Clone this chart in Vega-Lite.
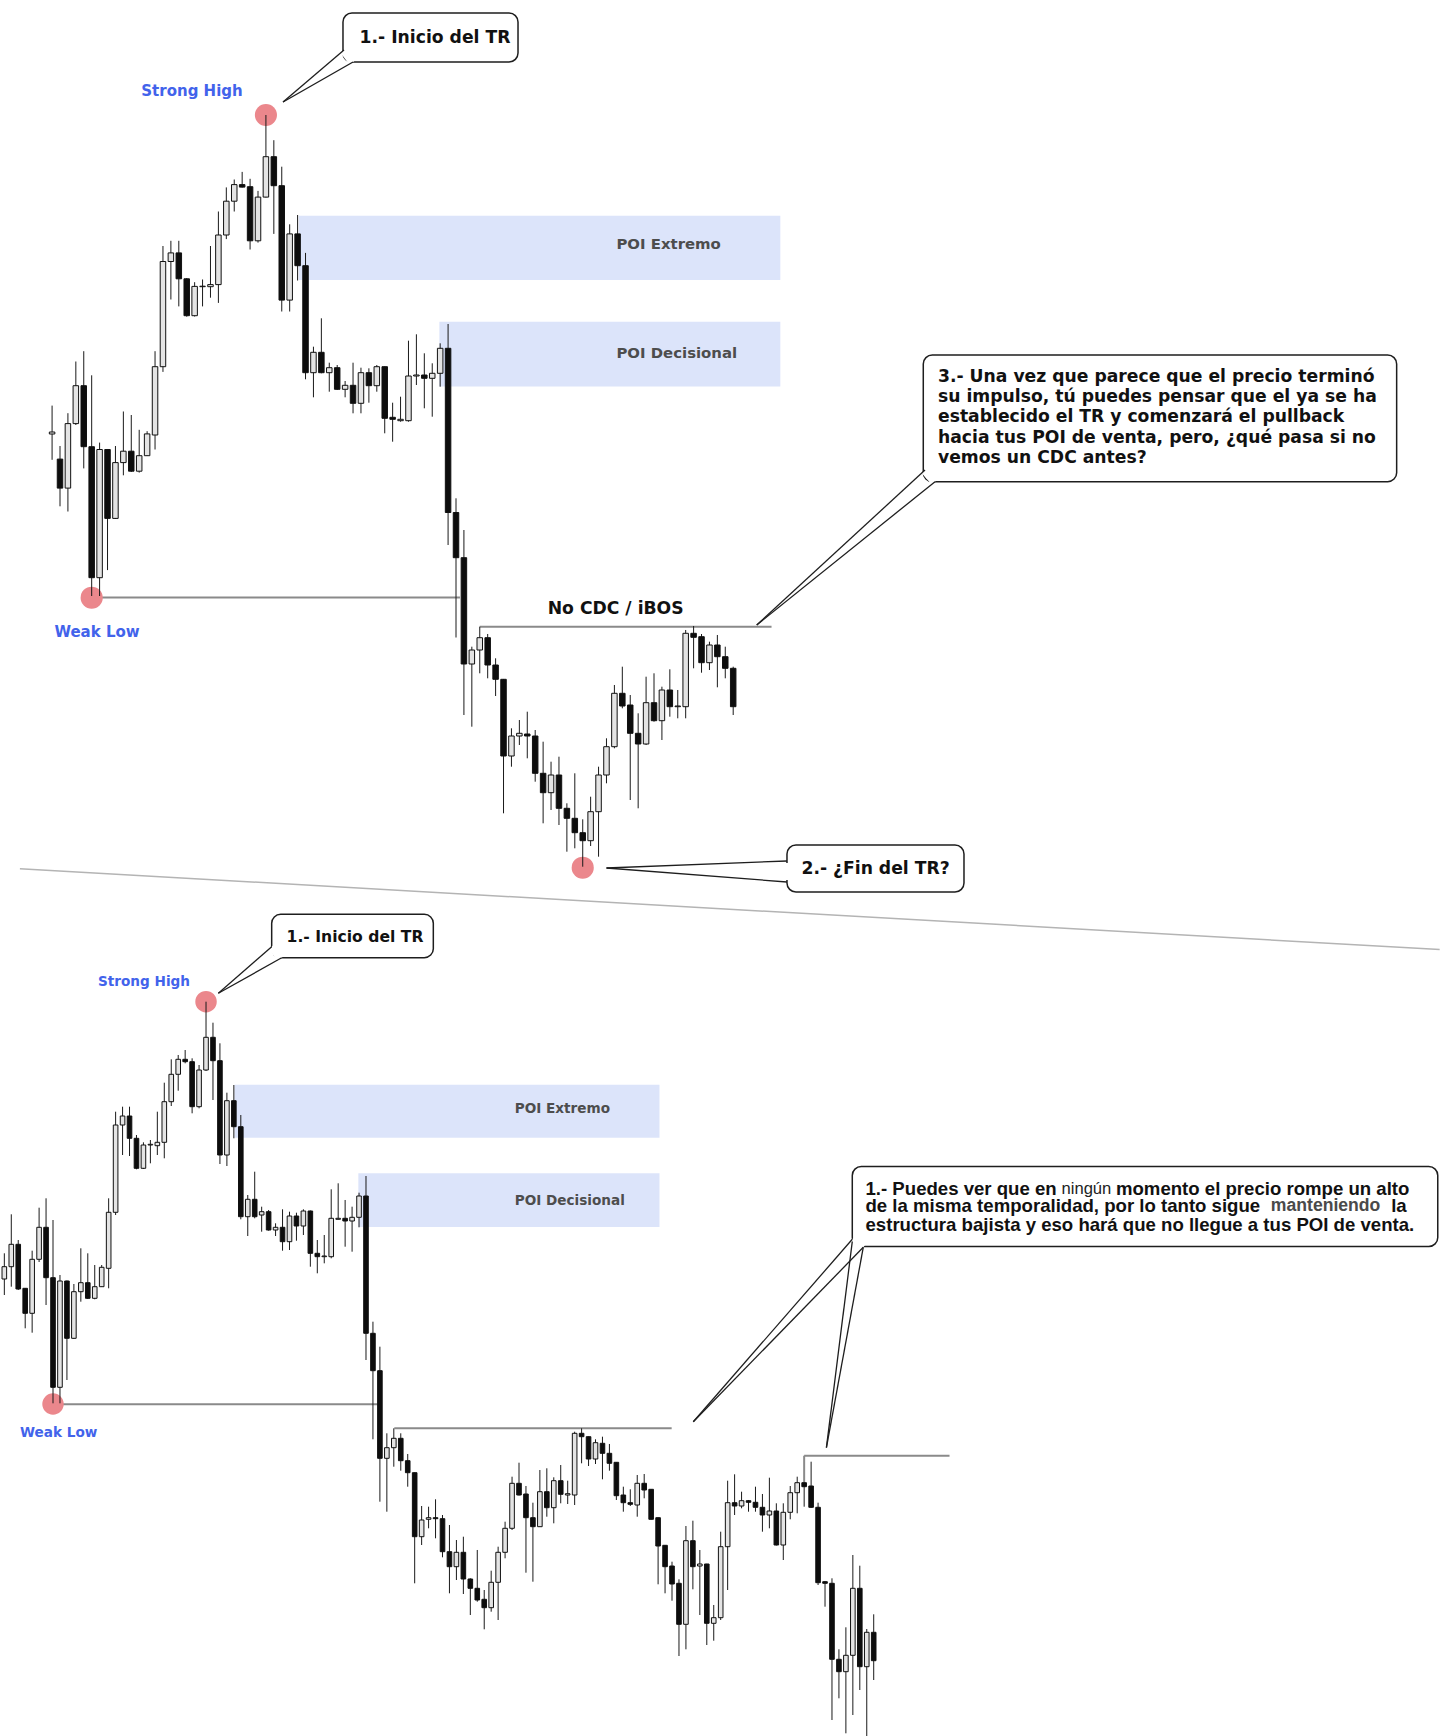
{
"$schema": "https://vega.github.io/schema/vega-lite/v6.json",
"padding": 0,
"spacing": 0,
"bounds": "flush",
"background": "white",
"config": {"view": {"stroke": null}},
"datasets": {
"top": [
{"i":-1,"o":566,"h":594.4,"l":540.2,"c":568},
{"i":0,"o":540.9,"h":554,"l":493.7,"c":511.9},
{"i":1,"o":511.9,"h":586.8,"l":488.5,"c":576.4},
{"i":2,"o":576.4,"h":638.5,"l":575,"c":614.3},
{"i":3,"o":614.3,"h":648.8,"l":531.6,"c":553.3},
{"i":4,"o":553.3,"h":624.7,"l":404,"c":422.3},
{"i":5,"o":422.3,"h":557.4,"l":404,"c":550.5},
{"i":6,"o":550.5,"h":551,"l":429.9,"c":481.6},
{"i":7,"o":481.6,"h":554,"l":481,"c":537.4},
{"i":8,"o":537.4,"h":588.5,"l":524.7,"c":548.8},
{"i":9,"o":548.8,"h":585,"l":528,"c":528.8},
{"i":10,"o":528.8,"h":570.2,"l":527.4,"c":544.3},
{"i":11,"o":544.3,"h":568.8,"l":544,"c":566.1},
{"i":12,"o":565,"h":648.8,"l":550.5,"c":633.3},
{"i":13,"o":633.3,"h":754,"l":628.1,"c":738.5},
{"i":14,"o":738.5,"h":759.2,"l":700.5,"c":747.1},
{"i":15,"o":747.1,"h":759.2,"l":693.6,"c":721.2},
{"i":16,"o":721.2,"h":721.9,"l":683.3,"c":684.3},
{"i":17,"o":684.3,"h":717.8,"l":683.5,"c":713.6},
{"i":18,"o":713.3,"h":720.5,"l":693.6,"c":713.8},
{"i":19,"o":713.3,"h":754,"l":702.3,"c":715.4},
{"i":20,"o":715.4,"h":788.5,"l":697.1,"c":765},
{"i":21,"o":765,"h":812.6,"l":760.9,"c":798.8},
{"i":22,"o":798.8,"h":820.5,"l":788.5,"c":815.4},
{"i":23,"o":815.4,"h":828.1,"l":812.5,"c":812.9},
{"i":24,"o":813.3,"h":821.2,"l":750.5,"c":759.2},
{"i":25,"o":759.2,"h":809.1,"l":757.4,"c":802.9},
{"i":26,"o":802.9,"h":885,"l":802.5,"c":843.3},
{"i":27,"o":843.3,"h":859.8,"l":766.1,"c":814.3},
{"i":28,"o":814.3,"h":833.3,"l":688.5,"c":699.9},
{"i":29,"o":699.9,"h":775.7,"l":688.5,"c":766.1},
{"i":30,"o":766.1,"h":785,"l":719.5,"c":734.3},
{"i":31,"o":734.3,"h":747.1,"l":620.7,"c":627.3},
{"i":32,"o":627.3,"h":653.3,"l":602.7,"c":647.7},
{"i":33,"o":647.7,"h":681.7,"l":626.7,"c":627.3},
{"i":34,"o":627.3,"h":637.3,"l":608.3,"c":632.3},
{"i":35,"o":632.3,"h":635,"l":610,"c":610.7},
{"i":36,"o":610.7,"h":619,"l":602.7,"c":614.7},
{"i":37,"o":614.7,"h":637.3,"l":586.7,"c":596.7},
{"i":38,"o":596.7,"h":632.3,"l":586.7,"c":627.3},
{"i":39,"o":627.3,"h":631.7,"l":597.3,"c":614.3},
{"i":40,"o":614.3,"h":635,"l":608.3,"c":633.3},
{"i":41,"o":633.3,"h":633.5,"l":566.7,"c":581.7},
{"i":42,"o":582.7,"h":597.3,"l":558.3,"c":580.7},
{"i":43,"o":579.3,"h":603.3,"l":578.3,"c":580.7},
{"i":44,"o":579.3,"h":659.3,"l":578.3,"c":624},
{"i":45,"o":624,"h":665.7,"l":615,"c":625},
{"i":46,"o":625,"h":646.7,"l":591.7,"c":621.7},
{"i":47,"o":621.7,"h":636.7,"l":583.3,"c":626.7},
{"i":48,"o":626.7,"h":656.7,"l":613.3,"c":651.7},
{"i":49,"o":651.7,"h":676,"l":455,"c":487.5},
{"i":50,"o":487.5,"h":501.7,"l":362.5,"c":442.3},
{"i":51,"o":442.3,"h":470,"l":285,"c":336},
{"i":52,"o":336,"h":353.3,"l":273.3,"c":350},
{"i":53,"o":350,"h":373.3,"l":326.7,"c":362.3},
{"i":54,"o":362.3,"h":366,"l":321.7,"c":335},
{"i":55,"o":335,"h":341.7,"l":304,"c":320.7},
{"i":56,"o":320.7,"h":321,"l":186.7,"c":244},
{"i":57,"o":244,"h":271.7,"l":233.3,"c":264},
{"i":58,"o":264,"h":280,"l":255,"c":266.7},
{"i":59,"o":266,"h":288.3,"l":241.7,"c":264},
{"i":60,"o":264,"h":270,"l":218.3,"c":226.7},
{"i":61,"o":226.7,"h":258.3,"l":176.7,"c":207.3},
{"i":62,"o":207.3,"h":238.3,"l":190,"c":225},
{"i":63,"o":225,"h":243.3,"l":175,"c":191.7},
{"i":64,"o":191.7,"h":196.7,"l":148.3,"c":181.7},
{"i":65,"o":181.7,"h":226.7,"l":151.7,"c":167.3},
{"i":66,"o":167.3,"h":180.7,"l":133.3,"c":159.3},
{"i":67,"o":159.3,"h":203.3,"l":154,"c":188.3},
{"i":68,"o":188.3,"h":233.3,"l":143.3,"c":225},
{"i":69,"o":225,"h":261.7,"l":216.7,"c":253.3},
{"i":70,"o":253.3,"h":315,"l":251.7,"c":306.7},
{"i":71,"o":306.7,"h":333.3,"l":291.7,"c":294},
{"i":72,"o":295,"h":305,"l":200,"c":266.7},
{"i":73,"o":266.7,"h":286.7,"l":191.7,"c":256},
{"i":74,"o":256,"h":323.3,"l":255,"c":297.3},
{"i":75,"o":297.3,"h":326.7,"l":278.3,"c":279.3},
{"i":76,"o":279.3,"h":313.3,"l":260,"c":310},
{"i":77,"o":310,"h":330.7,"l":283.3,"c":293.3},
{"i":78,"o":293.3,"h":310,"l":281.7,"c":294},
{"i":79,"o":293.3,"h":370,"l":281.7,"c":366.7},
{"i":80,"o":366.7,"h":374,"l":331.7,"c":362.7},
{"i":81,"o":363.3,"h":366,"l":327.3,"c":337.3},
{"i":82,"o":337.3,"h":358.3,"l":330,"c":355},
{"i":83,"o":355,"h":365,"l":312.7,"c":343.3},
{"i":84,"o":343.3,"h":353.3,"l":321.7,"c":331.7},
{"i":85,"o":331.7,"h":333.3,"l":285,"c":293.3}
],
"bot": [
{"i":0,"o":521,"h":546.7,"l":505,"c":533.3},
{"i":1,"o":533.3,"h":585.7,"l":513.3,"c":555.7},
{"i":2,"o":555.7,"h":560,"l":510,"c":511},
{"i":3,"o":511.7,"h":512,"l":471.7,"c":486.7},
{"i":4,"o":486.7,"h":549.3,"l":467.3,"c":540.7},
{"i":5,"o":540.7,"h":592.3,"l":538,"c":572.7},
{"i":6,"o":572.7,"h":601.7,"l":495,"c":522.3},
{"i":7,"o":522.3,"h":580,"l":396.7,"c":412.7},
{"i":8,"o":412.7,"h":525,"l":396.7,"c":519},
{"i":9,"o":519,"h":519.5,"l":420,"c":461.7},
{"i":10,"o":461.7,"h":516,"l":461,"c":508.3},
{"i":11,"o":508.3,"h":551.7,"l":498.3,"c":517.3},
{"i":12,"o":517.3,"h":546.7,"l":501,"c":501.7},
{"i":13,"o":501.7,"h":535,"l":500.7,"c":513.3},
{"i":14,"o":513.3,"h":535,"l":513,"c":532.7},
{"i":15,"o":531.7,"h":601.7,"l":511.7,"c":587.7},
{"i":16,"o":587.7,"h":688.3,"l":585,"c":675},
{"i":17,"o":675,"h":693.3,"l":645,"c":684},
{"i":18,"o":684,"h":693.3,"l":644,"c":661.7},
{"i":19,"o":661.7,"h":665,"l":630.7,"c":631.7},
{"i":20,"o":631.7,"h":657.7,"l":631,"c":655},
{"i":21,"o":655,"h":660,"l":636.7,"c":655.7},
{"i":22,"o":654.3,"h":688.3,"l":645,"c":657.7},
{"i":23,"o":657.7,"h":717.3,"l":641.7,"c":698.3},
{"i":24,"o":698.3,"h":740.7,"l":694,"c":725.7},
{"i":25,"o":725.7,"h":745,"l":709.3,"c":740.7},
{"i":26,"o":740.7,"h":750,"l":736.7,"c":738.3},
{"i":27,"o":738.3,"h":741.7,"l":686.7,"c":693.3},
{"i":28,"o":693.3,"h":735,"l":691.7,"c":730},
{"i":29,"o":730,"h":798.3,"l":729,"c":762.7},
{"i":30,"o":762.7,"h":777.3,"l":700,"c":739.3},
{"i":31,"o":739.3,"h":756.7,"l":636,"c":645},
{"i":32,"o":645,"h":707.3,"l":634,"c":699.3},
{"i":33,"o":699.3,"h":715,"l":661.7,"c":673.3},
{"i":34,"o":673.3,"h":685,"l":580.7,"c":583.3},
{"i":35,"o":583.3,"h":605,"l":564,"c":600.7},
{"i":36,"o":600.7,"h":628.3,"l":581.7,"c":583.3},
{"i":37,"o":585,"h":593.3,"l":568.3,"c":588.3},
{"i":38,"o":588.3,"h":590,"l":569.3,"c":570},
{"i":39,"o":570,"h":576.7,"l":564,"c":572.7},
{"i":40,"o":572.7,"h":590.7,"l":549.3,"c":558.3},
{"i":41,"o":558.3,"h":588.3,"l":550,"c":584},
{"i":42,"o":584,"h":587.3,"l":559.3,"c":574},
{"i":43,"o":574,"h":590.7,"l":565,"c":589},
{"i":44,"o":589,"h":589.5,"l":533.3,"c":546.7},
{"i":45,"o":546.7,"h":560,"l":526.7,"c":543.3},
{"i":46,"o":543.3,"h":565,"l":536.7,"c":544},
{"i":47,"o":543.3,"h":610.7,"l":541.7,"c":581.7},
{"i":48,"o":580.7,"h":616.7,"l":580.5,"c":581.7},
{"i":49,"o":581.7,"h":600,"l":553.3,"c":579},
{"i":50,"o":579,"h":593.3,"l":548.3,"c":582.7},
{"i":51,"o":582.7,"h":607.3,"l":572.7,"c":604},
{"i":52,"o":604,"h":624,"l":440,"c":466.7},
{"i":53,"o":466.7,"h":478.3,"l":360.7,"c":429.3},
{"i":54,"o":429.3,"h":453.3,"l":298.3,"c":341.7},
{"i":55,"o":341.7,"h":366.7,"l":288.3,"c":352.3},
{"i":56,"o":352.3,"h":371.7,"l":333.3,"c":361.7},
{"i":57,"o":361.7,"h":366.7,"l":329.3,"c":339.3},
{"i":58,"o":339.3,"h":346,"l":313.3,"c":327.3},
{"i":59,"o":327.3,"h":327.5,"l":216.7,"c":263.3},
{"i":60,"o":263.3,"h":294,"l":255,"c":280},
{"i":61,"o":280.7,"h":293.3,"l":271.7,"c":282.3},
{"i":62,"o":282.3,"h":300.7,"l":261.7,"c":281.3},
{"i":63,"o":281.3,"h":285,"l":242.7,"c":248.3},
{"i":64,"o":248.3,"h":275,"l":206.7,"c":233.3},
{"i":65,"o":233.3,"h":260,"l":220,"c":247.7},
{"i":66,"o":247.7,"h":263.3,"l":206,"c":221},
{"i":67,"o":221,"h":221.7,"l":185,"c":211.7},
{"i":68,"o":211.7,"h":250,"l":198.3,"c":200},
{"i":69,"o":200.7,"h":210,"l":170.7,"c":192.3},
{"i":70,"o":192.3,"h":229.3,"l":188.3,"c":217.7},
{"i":71,"o":217.7,"h":253.3,"l":180,"c":247.7},
{"i":72,"o":247.7,"h":278.3,"l":241.7,"c":271.7},
{"i":73,"o":271.7,"h":323.3,"l":270,"c":316.7},
{"i":74,"o":316.7,"h":337.3,"l":304.5,"c":305},
{"i":75,"o":306,"h":314,"l":227.3,"c":282.3},
{"i":76,"o":282.3,"h":297.3,"l":218.3,"c":273.3},
{"i":77,"o":273.3,"h":330,"l":273,"c":308.3},
{"i":78,"o":308.3,"h":331.7,"l":283.3,"c":292.3},
{"i":79,"o":292.3,"h":322.7,"l":276.7,"c":319.3},
{"i":80,"o":319.3,"h":335,"l":296.7,"c":305.7},
{"i":81,"o":305,"h":319.3,"l":296,"c":306.3},
{"i":82,"o":305,"h":368.3,"l":295,"c":366.7},
{"i":83,"o":366.7,"h":371.7,"l":336.7,"c":363.3},
{"i":84,"o":363.3,"h":363.5,"l":334,"c":341},
{"i":85,"o":341,"h":360.7,"l":336,"c":357.3},
{"i":86,"o":356.7,"h":363.3,"l":320.7,"c":346.7},
{"i":87,"o":346.7,"h":356,"l":329.3,"c":336.7},
{"i":88,"o":337.7,"h":337.9,"l":300,"c":304.3},
{"i":89,"o":305,"h":313.3,"l":288.3,"c":297.3},
{"i":90,"o":297.3,"h":310.7,"l":294,"c":295.7},
{"i":91,"o":295,"h":325,"l":283.3,"c":316.7},
{"i":92,"o":316.7,"h":326,"l":301.7,"c":310},
{"i":93,"o":310.7,"h":310.9,"l":280.5,"c":280.7},
{"i":94,"o":282.3,"h":282.5,"l":215.7,"c":254},
{"i":95,"o":254.7,"h":254.9,"l":206.7,"c":233.3},
{"i":96,"o":234,"h":238.3,"l":199.3,"c":216},
{"i":97,"o":216.7,"h":220.7,"l":144,"c":175.7},
{"i":98,"o":175.7,"h":274,"l":150.7,"c":259.3},
{"i":99,"o":259.3,"h":279.3,"l":210.7,"c":233.3},
{"i":100,"o":234,"h":250,"l":185,"c":236},
{"i":101,"o":236,"h":236.2,"l":155,"c":176.7},
{"i":102,"o":176.7,"h":195,"l":159.3,"c":182.3},
{"i":103,"o":182.3,"h":268.3,"l":180,"c":253.3},
{"i":104,"o":253.3,"h":319.3,"l":210,"c":297.3},
{"i":105,"o":297.3,"h":325.7,"l":285,"c":294},
{"i":106,"o":294,"h":308.3,"l":291.7,"c":299.3},
{"i":107,"o":299.3,"h":300,"l":288.3,"c":297.7},
{"i":108,"o":297.7,"h":313.3,"l":288.3,"c":292.7},
{"i":109,"o":292.7,"h":306,"l":268.3,"c":285},
{"i":110,"o":285,"h":322.3,"l":271.7,"c":289},
{"i":111,"o":289,"h":296.7,"l":254.5,"c":255},
{"i":112,"o":255,"h":296.7,"l":240,"c":287.7},
{"i":113,"o":287.7,"h":314,"l":280.7,"c":307.3},
{"i":114,"o":307.3,"h":323.3,"l":286.7,"c":317.3},
{"i":115,"o":317.3,"h":317.5,"l":293.3,"c":313.3},
{"i":116,"o":314,"h":338.3,"l":292,"c":292.7},
{"i":117,"o":292.7,"h":297.3,"l":215,"c":217.3},
{"i":118,"o":218.3,"h":219,"l":193.3,"c":216.7},
{"i":119,"o":216.7,"h":221.7,"l":80,"c":140.7},
{"i":120,"o":140.7,"h":150.7,"l":101.7,"c":128.3},
{"i":121,"o":128.3,"h":172.7,"l":66.7,"c":144.7},
{"i":122,"o":144.7,"h":245,"l":85,"c":211.7},
{"i":123,"o":211.7,"h":234.3,"l":110,"c":133.3},
{"i":124,"o":133.3,"h":171,"l":64,"c":167.7},
{"i":125,"o":167.7,"h":185.7,"l":120,"c":139.3}
]
},
"vconcat": [
{
"width": 1440, "height": 900,
"layer": [
{"data": {"values": [{"x": -5.06, "y": 131.2, "x2": 174.2, "y2": 50.4}]},
 "mark": {"type": "rule", "color": "#b4b4b4", "strokeWidth": 1.5},
 "encoding": {
  "x": {"field": "x", "type": "quantitative", "scale": {"domain": [-7.5758, 174.2424], "nice": false, "zero": false, "padding": 0}, "axis": null},
  "x2": {"field": "x2"},
  "y": {"field": "y", "type": "quantitative", "scale": {"domain": [100, 1000], "nice": false, "zero": false}, "axis": null},
  "y2": {"field": "y2"}}},
{"data": {"values": [{"x": 30.15, "x2": 90.95, "y": 784.2, "y2": 720}, {"x": 47.9, "x2": 90.95, "y": 678.3, "y2": 613.5}]},
 "mark": {"type": "rect", "color": "#dce4fa"},
 "encoding": {
  "x": {"field": "x", "type": "quantitative", "scale": {"domain": [-7.5758, 174.2424], "nice": false, "zero": false, "padding": 0}, "axis": null},
  "x2": {"field": "x2"},
  "y": {"field": "y", "type": "quantitative", "scale": {"domain": [100, 1000], "nice": false, "zero": false}, "axis": null},
  "y2": {"field": "y2"}}},
{"data": {"values": [{"x": 70.26, "y": 755.4, "t": "POI Extremo"}, {"x": 70.26, "y": 645.8, "t": "POI Decisional"}]},
 "mark": {"type": "text", "align": "left", "baseline": "middle", "font": "DejaVu Sans", "fontWeight": "bold", "fontSize": 14.9, "color": "#4d4d4d"},
 "encoding": {
  "x": {"field": "x", "type": "quantitative", "scale": {"domain": [-7.5758, 174.2424], "nice": false, "zero": false, "padding": 0}, "axis": null},
  "y": {"field": "y", "type": "quantitative", "scale": {"domain": [100, 1000], "nice": false, "zero": false}, "axis": null},
  "text": {"field": "t", "type": "nominal"}}},
{"data": {"values": [{"x": 4, "x2": 50.5, "y": 402.5, "y2": 402.5}, {"x": 53, "x2": 89.84, "y": 373.3, "y2": 373.3}]},
 "mark": {"type": "rule", "color": "#8a8a8a", "strokeWidth": 2},
 "encoding": {
  "x": {"field": "x", "type": "quantitative", "scale": {"domain": [-7.5758, 174.2424], "nice": false, "zero": false, "padding": 0}, "axis": null},
  "x2": {"field": "x2"},
  "y": {"field": "y", "type": "quantitative", "scale": {"domain": [100, 1000], "nice": false, "zero": false}, "axis": null},
  "y2": {"field": "y2"}}},
{"data": {"values": [{"x": 26, "y": 885}, {"x": 4, "y": 402.3}, {"x": 66, "y": 132.3}]},
 "mark": {"type": "point", "shape": "circle", "filled": true, "size": 490, "color": "#eb878c", "opacity": 1},
 "encoding": {
  "x": {"field": "x", "type": "quantitative", "scale": {"domain": [-7.5758, 174.2424], "nice": false, "zero": false, "padding": 0}, "axis": null},
  "y": {"field": "y", "type": "quantitative", "scale": {"domain": [100, 1000], "nice": false, "zero": false}, "axis": null}}},
{"data": {"name": "top"},
 "mark": {"type": "rule", "color": "#1a1a1a", "strokeWidth": 1},
 "encoding": {
  "x": {"field": "i", "type": "quantitative", "scale": {"domain": [-7.5758, 174.2424], "nice": false, "zero": false, "padding": 0}, "axis": null},
  "y": {"field": "l", "type": "quantitative", "scale": {"domain": [100, 1000], "nice": false, "zero": false}, "axis": null},
  "y2": {"field": "h"}}},
{"data": {"name": "top"},
 "mark": {"type": "bar", "width": 5.5, "stroke": "#111111", "strokeWidth": 1},
 "encoding": {
  "x": {"field": "i", "type": "quantitative", "scale": {"domain": [-7.5758, 174.2424], "nice": false, "zero": false, "padding": 0}, "axis": null},
  "y": {"field": "o", "type": "quantitative", "scale": {"domain": [100, 1000], "nice": false, "zero": false}, "axis": null},
  "y2": {"field": "c"},
  "fill": {"condition": {"test": "datum.c > datum.o", "value": "#e4e4e4"}, "value": "#0d0d0d"}}},
{"data": {"values": [{"x": 35.73, "x2": 57.83, "y": 987, "y2": 938}, {"x": 91.79, "x2": 114.14, "y": 155, "y2": 108}, {"x": 109.0, "x2": 168.77, "y": 645, "y2": 518.3}]},
 "mark": {"type": "rect", "fill": "#ffffff", "stroke": "#1e1e1e", "strokeWidth": 1.5, "cornerRadius": 9},
 "encoding": {
  "x": {"field": "x", "type": "quantitative", "scale": {"domain": [-7.5758, 174.2424], "nice": false, "zero": false, "padding": 0}, "axis": null},
  "x2": {"field": "x2"},
  "y": {"field": "y", "type": "quantitative", "scale": {"domain": [100, 1000], "nice": false, "zero": false}, "axis": null},
  "y2": {"field": "y2"}}},
{"data": {"values": [{"x": 35.86, "y": 950, "x2": 37.0, "y2": 938}, {"x": 91.79, "y": 137, "x2": 91.79, "y2": 120}, {"x": 109.22, "y": 530, "x2": 110.48, "y2": 518.3}]},
 "mark": {"type": "rule", "color": "#ffffff", "strokeWidth": 9},
 "encoding": {
  "x": {"field": "x", "type": "quantitative", "scale": {"domain": [-7.5758, 174.2424], "nice": false, "zero": false, "padding": 0}, "axis": null},
  "x2": {"field": "x2"},
  "y": {"field": "y", "type": "quantitative", "scale": {"domain": [100, 1000], "nice": false, "zero": false}, "axis": null},
  "y2": {"field": "y2"}}},
{"data": {"values": [
  {"x": 28.16, "y": 898, "x2": 35.86, "y2": 950}, {"x": 28.16, "y": 898, "x2": 37.0, "y2": 938},
  {"x": 69.0, "y": 132, "x2": 91.79, "y2": 139}, {"x": 69.0, "y": 132, "x2": 91.79, "y2": 118},
  {"x": 87.97, "y": 375, "x2": 109.22, "y2": 530}, {"x": 87.97, "y": 375, "x2": 110.48, "y2": 518.3}]},
 "mark": {"type": "rule", "color": "#1e1e1e", "strokeWidth": 1.3},
 "encoding": {
  "x": {"field": "x", "type": "quantitative", "scale": {"domain": [-7.5758, 174.2424], "nice": false, "zero": false, "padding": 0}, "axis": null},
  "x2": {"field": "x2"},
  "y": {"field": "y", "type": "quantitative", "scale": {"domain": [100, 1000], "nice": false, "zero": false}, "axis": null},
  "y2": {"field": "y2"}}},
{"data": {"values": [{"x": 47.35, "y": 962, "t": "1.- Inicio del TR"}, {"x": 102.97, "y": 131, "t": "2.- ¿Fin del TR?"}, {"x": 70.16, "y": 391, "t": "No CDC / iBOS"}]},
 "mark": {"type": "text", "align": "center", "baseline": "middle", "font": "DejaVu Sans", "fontWeight": "bold", "fontSize": 17.2, "color": "#111111"},
 "encoding": {
  "x": {"field": "x", "type": "quantitative", "scale": {"domain": [-7.5758, 174.2424], "nice": false, "zero": false, "padding": 0}, "axis": null},
  "y": {"field": "y", "type": "quantitative", "scale": {"domain": [100, 1000], "nice": false, "zero": false}, "axis": null},
  "text": {"field": "t", "type": "nominal"}}},
{"data": {"values": [{"x": 16.67, "y": 909, "t": "Strong High"}, {"x": 4.67, "y": 368, "t": "Weak Low"}]},
 "mark": {"type": "text", "align": "center", "baseline": "middle", "font": "DejaVu Sans", "fontWeight": "bold", "fontSize": 15, "color": "#4263eb"},
 "encoding": {
  "x": {"field": "x", "type": "quantitative", "scale": {"domain": [-7.5758, 174.2424], "nice": false, "zero": false, "padding": 0}, "axis": null},
  "y": {"field": "y", "type": "quantitative", "scale": {"domain": [100, 1000], "nice": false, "zero": false}, "axis": null},
  "text": {"field": "t", "type": "nominal"}}},
{"data": {"values": [
  {"x": 110.86, "y": 622.6, "t": "3.- Una vez que parece que el precio terminó"},
  {"x": 110.86, "y": 602.7, "t": "su impulso, tú puedes pensar que el ya se ha"},
  {"x": 110.86, "y": 582.7, "t": "establecido el TR y comenzará el pullback"},
  {"x": 110.86, "y": 562.2, "t": "hacia tus POI de venta, pero, ¿qué pasa si no"},
  {"x": 110.86, "y": 542.0, "t": "vemos un CDC antes?"}]},
 "mark": {"type": "text", "align": "left", "baseline": "middle", "font": "DejaVu Sans", "fontWeight": "bold", "fontSize": 17.2, "color": "#111111"},
 "encoding": {
  "x": {"field": "x", "type": "quantitative", "scale": {"domain": [-7.5758, 174.2424], "nice": false, "zero": false, "padding": 0}, "axis": null},
  "y": {"field": "y", "type": "quantitative", "scale": {"domain": [100, 1000], "nice": false, "zero": false}, "axis": null},
  "text": {"field": "t", "type": "nominal"}}}
]
},
{
"width": 1440, "height": 836,
"layer": [
{"data": {"values": [{"x": 33.1, "x2": 94.2, "y": 715.3, "y2": 662.2}, {"x": 50.9, "x2": 94.2, "y": 626.8, "y2": 573}]},
 "mark": {"type": "rect", "color": "#dce4fa"},
 "encoding": {
  "x": {"field": "x", "type": "quantitative", "scale": {"domain": [-0.6226, 206.4216], "nice": false, "zero": false, "padding": 0}, "axis": null},
  "x2": {"field": "x2"},
  "y": {"field": "y", "type": "quantitative", "scale": {"domain": [64, 900], "nice": false, "zero": false}, "axis": null},
  "y2": {"field": "y2"}}},
{"data": {"values": [{"x": 73.38, "y": 691, "t": "POI Extremo"}, {"x": 73.38, "y": 599, "t": "POI Decisional"}]},
 "mark": {"type": "text", "align": "left", "baseline": "middle", "font": "DejaVu Sans", "fontWeight": "bold", "fontSize": 13.6, "color": "#4d4d4d"},
 "encoding": {
  "x": {"field": "x", "type": "quantitative", "scale": {"domain": [-0.6226, 206.4216], "nice": false, "zero": false, "padding": 0}, "axis": null},
  "y": {"field": "y", "type": "quantitative", "scale": {"domain": [64, 900], "nice": false, "zero": false}, "axis": null},
  "text": {"field": "t", "type": "nominal"}}},
{"data": {"values": [{"x": 7, "x2": 53.7, "y": 395.7, "y2": 395.7}, {"x": 56.07, "x2": 95.95, "y": 371.7, "y2": 371.7}, {"x": 115, "x2": 135.9, "y": 344.3, "y2": 344.3}, {"x": 115, "x2": 115, "y": 344.3, "y2": 317.5}]},
 "mark": {"type": "rule", "color": "#8a8a8a", "strokeWidth": 2},
 "encoding": {
  "x": {"field": "x", "type": "quantitative", "scale": {"domain": [-0.6226, 206.4216], "nice": false, "zero": false, "padding": 0}, "axis": null},
  "x2": {"field": "x2"},
  "y": {"field": "y", "type": "quantitative", "scale": {"domain": [64, 900], "nice": false, "zero": false}, "axis": null},
  "y2": {"field": "y2"}}},
{"data": {"values": [{"x": 29, "y": 798.3}, {"x": 7, "y": 396}]},
 "mark": {"type": "point", "shape": "circle", "filled": true, "size": 460, "color": "#eb878c", "opacity": 1},
 "encoding": {
  "x": {"field": "x", "type": "quantitative", "scale": {"domain": [-0.6226, 206.4216], "nice": false, "zero": false, "padding": 0}, "axis": null},
  "y": {"field": "y", "type": "quantitative", "scale": {"domain": [64, 900], "nice": false, "zero": false}, "axis": null}}},
{"data": {"name": "bot"},
 "mark": {"type": "rule", "color": "#1a1a1a", "strokeWidth": 1},
 "encoding": {
  "x": {"field": "i", "type": "quantitative", "scale": {"domain": [-0.6226, 206.4216], "nice": false, "zero": false, "padding": 0}, "axis": null},
  "y": {"field": "l", "type": "quantitative", "scale": {"domain": [64, 900], "nice": false, "zero": false}, "axis": null},
  "y2": {"field": "h"}}},
{"data": {"name": "bot"},
 "mark": {"type": "bar", "width": 4.6, "stroke": "#111111", "strokeWidth": 1},
 "encoding": {
  "x": {"field": "i", "type": "quantitative", "scale": {"domain": [-0.6226, 206.4216], "nice": false, "zero": false, "padding": 0}, "axis": null},
  "y": {"field": "o", "type": "quantitative", "scale": {"domain": [64, 900], "nice": false, "zero": false}, "axis": null},
  "y2": {"field": "c"},
  "fill": {"condition": {"test": "datum.c > datum.o", "value": "#e4e4e4"}, "value": "#0d0d0d"}}},
{"data": {"values": [{"x": 38.44, "x2": 61.68, "y": 885.7, "y2": 842.3}, {"x": 121.92, "x2": 206.1, "y": 633.5, "y2": 553.5}]},
 "mark": {"type": "rect", "fill": "#ffffff", "stroke": "#1e1e1e", "strokeWidth": 1.5, "cornerRadius": 9},
 "encoding": {
  "x": {"field": "x", "type": "quantitative", "scale": {"domain": [-0.6226, 206.4216], "nice": false, "zero": false, "padding": 0}, "axis": null},
  "x2": {"field": "x2"},
  "y": {"field": "y", "type": "quantitative", "scale": {"domain": [64, 900], "nice": false, "zero": false}, "axis": null},
  "y2": {"field": "y2"}}},
{"data": {"values": [{"x": 38.44, "y": 853.3, "x2": 39.88, "y2": 842.3}, {"x": 121.92, "y": 560.7, "x2": 123.5, "y2": 552.7}]},
 "mark": {"type": "rule", "color": "#ffffff", "strokeWidth": 9},
 "encoding": {
  "x": {"field": "x", "type": "quantitative", "scale": {"domain": [-0.6226, 206.4216], "nice": false, "zero": false, "padding": 0}, "axis": null},
  "x2": {"field": "x2"},
  "y": {"field": "y", "type": "quantitative", "scale": {"domain": [64, 900], "nice": false, "zero": false}, "axis": null},
  "y2": {"field": "y2"}}},
{"data": {"values": [
  {"x": 30.77, "y": 806.7, "x2": 38.44, "y2": 853.3}, {"x": 30.77, "y": 806.7, "x2": 39.88, "y2": 842.3},
  {"x": 99.06, "y": 378.3, "x2": 121.92, "y2": 560.7}, {"x": 99.06, "y": 378.3, "x2": 123.5, "y2": 552.7},
  {"x": 118.2, "y": 352.3, "x2": 121.92, "y2": 558.5}, {"x": 118.2, "y": 352.3, "x2": 123.5, "y2": 552.7}]},
 "mark": {"type": "rule", "color": "#1e1e1e", "strokeWidth": 1.3},
 "encoding": {
  "x": {"field": "x", "type": "quantitative", "scale": {"domain": [-0.6226, 206.4216], "nice": false, "zero": false, "padding": 0}, "axis": null},
  "x2": {"field": "x2"},
  "y": {"field": "y", "type": "quantitative", "scale": {"domain": [64, 900], "nice": false, "zero": false}, "axis": null},
  "y2": {"field": "y2"}}},
{"data": {"values": [{"x": 50.42, "y": 863.3, "t": "1.- Inicio del TR"}]},
 "mark": {"type": "text", "align": "center", "baseline": "middle", "font": "DejaVu Sans", "fontWeight": "bold", "fontSize": 15.6, "color": "#111111"},
 "encoding": {
  "x": {"field": "x", "type": "quantitative", "scale": {"domain": [-0.6226, 206.4216], "nice": false, "zero": false, "padding": 0}, "axis": null},
  "y": {"field": "y", "type": "quantitative", "scale": {"domain": [64, 900], "nice": false, "zero": false}, "axis": null},
  "text": {"field": "t", "type": "nominal"}}},
{"data": {"values": [{"x": 20.08, "y": 818.3, "t": "Strong High"}, {"x": 7.82, "y": 366.7, "t": "Weak Low"}]},
 "mark": {"type": "text", "align": "center", "baseline": "middle", "font": "DejaVu Sans", "fontWeight": "bold", "fontSize": 13.6, "color": "#4263eb"},
 "encoding": {
  "x": {"field": "x", "type": "quantitative", "scale": {"domain": [-0.6226, 206.4216], "nice": false, "zero": false, "padding": 0}, "axis": null},
  "y": {"field": "y", "type": "quantitative", "scale": {"domain": [64, 900], "nice": false, "zero": false}, "axis": null},
  "text": {"field": "t", "type": "nominal"}}},
{"data": {"values": [
  {"x": 123.82, "y": 611.3, "t": "1.- Puedes ver que en"},
  {"x": 159.83, "y": 611.3, "t": "momento el precio rompe un alto"},
  {"x": 123.82, "y": 593.6, "t": "de la misma temporalidad,  por lo tanto sigue"},
  {"x": 199.4, "y": 593.6, "t": "la"},
  {"x": 123.82, "y": 574.8, "t": "estructura bajista y eso hará que no llegue a tus POI de venta."}]},
 "mark": {"type": "text", "align": "left", "baseline": "middle", "font": "Liberation Sans", "fontWeight": "bold", "fontSize": 18.6, "color": "#111111"},
 "encoding": {
  "x": {"field": "x", "type": "quantitative", "scale": {"domain": [-0.6226, 206.4216], "nice": false, "zero": false, "padding": 0}, "axis": null},
  "y": {"field": "y", "type": "quantitative", "scale": {"domain": [64, 900], "nice": false, "zero": false}, "axis": null},
  "text": {"field": "t", "type": "nominal"}}},
{"data": {"values": [{"x": 152.0, "y": 611.3, "t": "ningún"}]},
 "mark": {"type": "text", "align": "left", "baseline": "middle", "font": "Liberation Sans", "fontWeight": "normal", "fontSize": 16.6, "color": "#222222"},
 "encoding": {
  "x": {"field": "x", "type": "quantitative", "scale": {"domain": [-0.6226, 206.4216], "nice": false, "zero": false, "padding": 0}, "axis": null},
  "y": {"field": "y", "type": "quantitative", "scale": {"domain": [64, 900], "nice": false, "zero": false}, "axis": null},
  "text": {"field": "t", "type": "nominal"}}},
{"data": {"values": [{"x": 182.1, "y": 593.6, "t": "manteniendo"}]},
 "mark": {"type": "text", "align": "left", "baseline": "middle", "font": "Liberation Sans", "fontWeight": "bold", "fontSize": 17.6, "color": "#4a4a4a"},
 "encoding": {
  "x": {"field": "x", "type": "quantitative", "scale": {"domain": [-0.6226, 206.4216], "nice": false, "zero": false, "padding": 0}, "axis": null},
  "y": {"field": "y", "type": "quantitative", "scale": {"domain": [64, 900], "nice": false, "zero": false}, "axis": null},
  "text": {"field": "t", "type": "nominal"}}}
]
}
]
}
